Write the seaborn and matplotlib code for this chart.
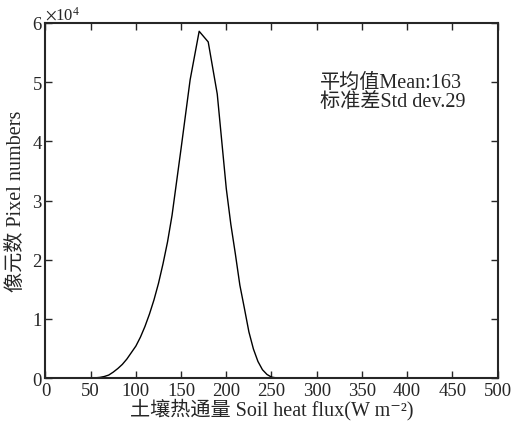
import matplotlib
matplotlib.use("Agg")
import matplotlib.pyplot as plt
import matplotlib.ticker as mticker
import pandas as pd
import seaborn as sns

# Soil heat flux histogram (W m-2) vs pixel counts
flux = [50, 55, 60, 65, 70, 75, 80, 85, 90, 95, 100, 105, 110, 115, 120, 125,
        130, 135, 140, 150, 160, 170, 180, 190, 200, 205, 210, 215, 220, 225,
        230, 235, 240, 245, 250, 255, 260]
pixels = [0, 30, 100, 250, 500, 1000, 1600, 2300, 3200, 4300, 5400, 6900, 8700,
          10800, 13200, 16000, 19300, 23000, 27500, 38800, 50400, 58600, 56800,
          48000, 32000, 26000, 21000, 15700, 11800, 7800, 4900, 2800, 1400, 600,
          150, 30, 0]

x_ticks = [0, 50, 100, 150, 200, 250, 300, 350, 400, 450, 500]
y_ticks = [0, 10000, 20000, 30000, 40000, 50000, 60000]
stats_text = "平均值Mean:163\n标准差Std dev.29"

FONTS = ["Liberation Serif", "Noto Sans CJK SC", "DejaVu Serif"]

sns.set_style("ticks")
plt.rcParams["font.family"] = FONTS
plt.rcParams["mathtext.fontset"] = "stix"
plt.rcParams["xtick.direction"] = "in"
plt.rcParams["ytick.direction"] = "in"

df = pd.DataFrame({"flux": flux, "pixels": pixels})

fig = plt.figure(figsize=(5.11, 4.27), dpi=100)
ax = fig.add_axes([0.089, 0.1124, 0.8846, 0.8314])

sns.lineplot(data=df, x="flux", y="pixels", color="black", linewidth=1.0, ax=ax)

ax.set_xlim(0, 500)
ax.set_ylim(0, 60000)
ax.set_xticks(x_ticks)
ax.set_yticks(y_ticks)

fmt = mticker.ScalarFormatter(useMathText=True)
fmt.set_powerlimits((0, 0))
ax.yaxis.set_major_formatter(fmt)
ax.yaxis.get_offset_text().set_fontsize(12)

ax.tick_params(axis="both", which="major", labelsize=13.5, length=5, width=1,
               top=True, right=True)
ax.tick_params(axis="x", pad=3)
ax.tick_params(axis="y", pad=2)
for sp in ax.spines.values():
    sp.set_linewidth(1.5)
    sp.set_visible(True)

ax.set_xlabel("土壤热通量 Soil heat flux(W m⁻²)", fontsize=14.5, labelpad=-1)
ax.set_ylabel("像元数 Pixel numbers", fontsize=14.5, labelpad=4)

ax.text(304, 48300, stats_text, fontsize=14.5, ha="left", va="center",
        linespacing=1.0)

fig.savefig("out.png", dpi=100)
